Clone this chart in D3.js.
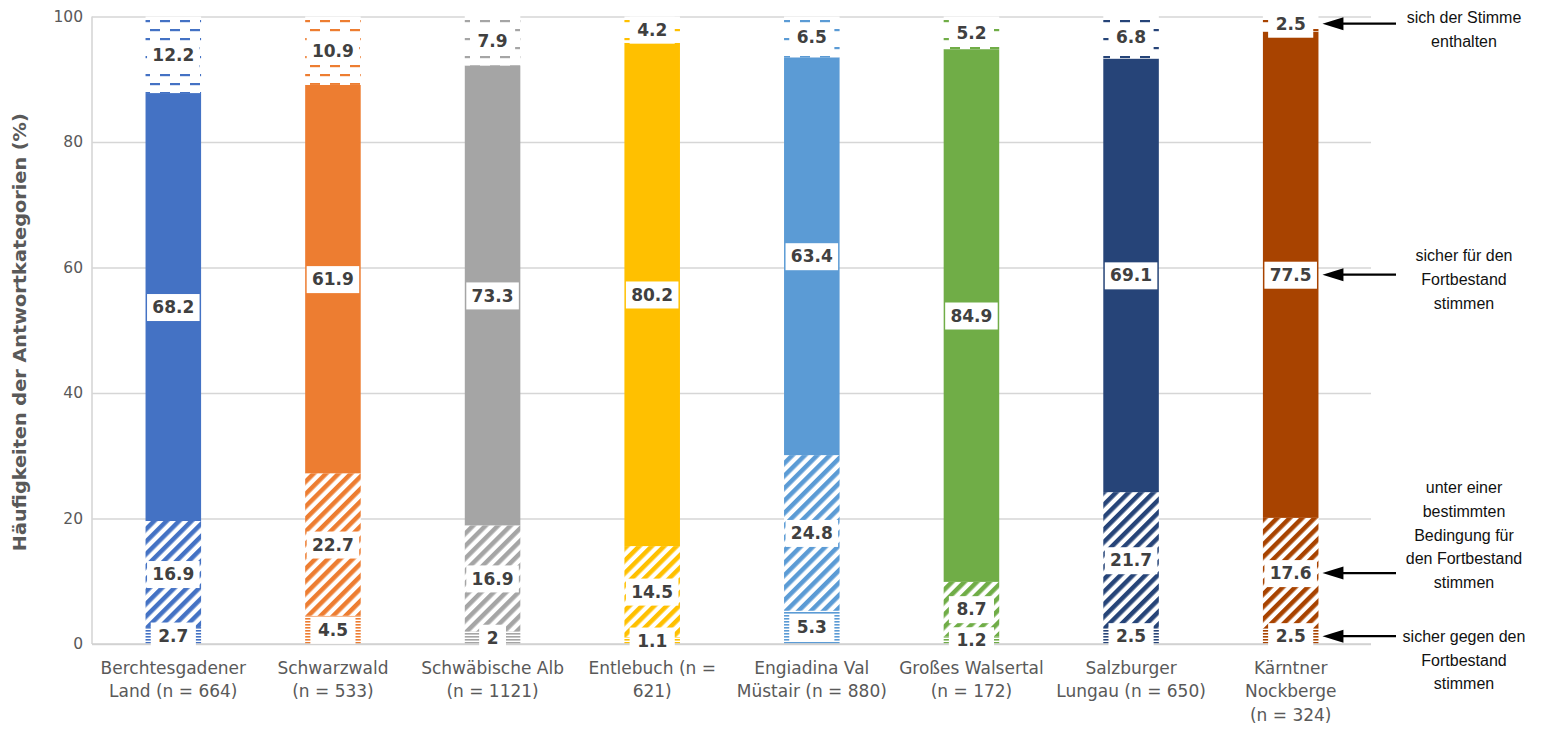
<!DOCTYPE html>
<html>
<head>
<meta charset="utf-8">
<script src="https://cdn.jsdelivr.net/npm/d3@7/dist/d3.min.js"></script>
<style>
  html, body { margin: 0; padding: 0; background: #fff; }
  svg { display: block; }
</style>
</head>
<body>
<svg id="chart" width="1551" height="734"></svg>
<script>
// Regions (axis labels wrapped onto lines)
const categoryLines = [
  ["Berchtesgadener", "Land (n = 664)"],
  ["Schwarzwald", "(n = 533)"],
  ["Schwäbische Alb", "(n = 1121)"],
  ["Entlebuch (n =", "621)"],
  ["Engiadina Val", "Müstair (n = 880)"],
  ["Großes Walsertal", "(n = 172)"],
  ["Salzburger", "Lungau (n = 650)"],
  ["Kärntner", "Nockberge", "(n = 324)"]
];
const categories = categoryLines.map(l => l.join(" "));

// Shares of answer categories (%), bottom to top
const sicherGegen = [2.7, 4.5, 2, 1.1, 5.3, 1.2, 2.5, 2.5];
const bedingung   = [16.9, 22.7, 16.9, 14.5, 24.8, 8.7, 21.7, 17.6];
const sicherFuer  = [68.2, 61.9, 73.3, 80.2, 63.4, 84.9, 69.1, 77.5];
const enthalten   = [12.2, 10.9, 7.9, 4.2, 6.5, 5.2, 6.8, 2.5];

const barColors = ["#4472C4", "#ED7D31", "#A5A5A5", "#FFC000", "#5B9BD5", "#70AD47", "#264478", "#A84300"];
const yTicks = [0, 20, 40, 60, 80, 100];
const yTitle = "Häufigkeiten der Antwortkategorien (%)";

// Legend notes on the right, one per answer category (same order as the stack)
const seriesKeys = ["gegen", "bedingung", "fuer", "enthalten"];
const seriesNotes = [
  ["sicher gegen den", "Fortbestand", "stimmen"],
  ["unter einer", "bestimmten", "Bedingung für", "den Fortbestand", "stimmen"],
  ["sicher für den", "Fortbestand", "stimmen"],
  ["sich der Stimme", "enthalten"]
];
// which note line sits level with the arrow
const noteArrowLine = [0, 3.6, 0.8, 0.25];

const rows = categories.map((c, i) => ({
  category: c,
  gegen: sicherGegen[i],
  bedingung: bedingung[i],
  fuer: sicherFuer[i],
  enthalten: enthalten[i],
  color: barColors[i],
  index: i
}));

const svg = d3.select("#chart");
const plotLeft = 92, plotRight = 1371, plotTop = 16.5, plotBottom = 644;

const x = d3.scaleBand()
  .domain(categories)
  .range([plotLeft + 1.5, plotRight - 0.5])
  .paddingInner(0.652)
  .paddingOuter(0.326);

const y = d3.scaleLinear().domain([0, 100]).range([plotBottom, plotTop]);

// ---- fill patterns per bar colour ----
const defs = svg.append("defs");
barColors.forEach((col, i) => {
  // narrow horizontal lines
  const pg = defs.append("pattern")
    .attr("id", `pat-gegen-${i}`)
    .attr("patternUnits", "userSpaceOnUse")
    .attr("width", 8).attr("height", 3);
  pg.append("rect").attr("width", 8).attr("height", 3).attr("fill", "#fff");
  pg.append("rect").attr("y", 0).attr("width", 8).attr("height", 1.6).attr("fill", col);

  // wide upward diagonal stripes
  const pb = defs.append("pattern")
    .attr("id", `pat-bedingung-${i}`)
    .attr("patternUnits", "userSpaceOnUse")
    .attr("width", 10).attr("height", 8.8)
    .attr("patternTransform", "rotate(-45)");
  pb.append("rect").attr("width", 10).attr("height", 8.8).attr("fill", "#fff");
  pb.append("rect").attr("y", 0).attr("width", 10).attr("height", 4.5).attr("fill", col);

  // dashed horizontal lines
  const pe = defs.append("pattern")
    .attr("id", `pat-enthalten-${i}`)
    .attr("patternUnits", "userSpaceOnUse")
    .attr("width", 20).attr("height", 18);
  pe.append("rect").attr("width", 20).attr("height", 18).attr("fill", "#fff");
  pe.append("rect").attr("x", 0).attr("y", 2).attr("width", 10).attr("height", 2.2).attr("fill", col);
  pe.append("rect").attr("x", 10).attr("y", 11).attr("width", 10).attr("height", 2.2).attr("fill", col);
});

// ---- gridlines ----
svg.append("g")
  .attr("transform", `translate(${plotLeft},0)`)
  .call(d3.axisLeft(y).tickValues(yTicks).tickSize(-(plotRight - plotLeft)).tickFormat(""))
  .call(g => g.select(".domain").remove())
  .call(g => g.selectAll(".tick line").attr("stroke", "#d6d6d6").attr("stroke-width", 1.6));

// left axis line
svg.append("line")
  .attr("x1", plotLeft).attr("x2", plotLeft)
  .attr("y1", y(100)).attr("y2", y(0))
  .attr("stroke", "#d6d6d6").attr("stroke-width", 1.6);

// ---- y tick labels ----
svg.append("g")
  .attr("transform", `translate(${plotLeft - 9},0)`)
  .call(d3.axisLeft(y).tickValues(yTicks).tickSize(0).tickPadding(0))
  .call(g => g.select(".domain").remove())
  .call(g => g.selectAll(".tick text")
    .attr("font-family", "'DejaVu Sans', sans-serif")
    .attr("font-size", 15.5)
    .attr("fill", "#595959"));

// y title
svg.append("text")
  .attr("transform", `translate(26,${(y(100) + y(0)) / 2 + 2}) rotate(-90)`)
  .attr("text-anchor", "middle")
  .attr("font-family", "'DejaVu Sans', sans-serif")
  .attr("font-weight", "bold")
  .attr("font-size", 17)
  .attr("fill", "#595959")
  .attr("textLength", 438)
  .attr("lengthAdjust", "spacingAndGlyphs")
  .text(yTitle);

// ---- stacked bars ----
const stacked = d3.stack().keys(seriesKeys)(rows);
const barsG = svg.append("g");
stacked.forEach(layer => {
  barsG.selectAll(null)
    .data(layer)
    .join("rect")
    .attr("x", d => x(d.data.category))
    .attr("width", x.bandwidth())
    .attr("y", d => y(d[1]))
    .attr("height", d => y(d[0]) - y(d[1]))
    .attr("fill", d => layer.key === "fuer" ? d.data.color : `url(#pat-${layer.key}-${d.data.index})`);
});

// x axis baseline
svg.append("line")
  .attr("x1", plotLeft).attr("x2", plotRight)
  .attr("y1", y(0)).attr("y2", y(0))
  .attr("stroke", "#d0d0d0").attr("stroke-width", 1.6);

// ---- value labels (white boxes) ----
const labelsG = svg.append("g");
stacked.forEach(layer => {
  layer.forEach(d => {
    const v = d.data[layer.key];
    const cx = x(d.data.category) + x.bandwidth() / 2;
    const cy = y((d[0] + d[1]) / 2);
    const g = labelsG.append("g");
    const box = g.append("rect").attr("fill", "#fff");
    const t = g.append("text")
      .attr("x", cx).attr("y", cy)
      .attr("dy", "0.36em")
      .attr("text-anchor", "middle")
      .attr("font-family", "'DejaVu Sans', sans-serif")
      .attr("font-weight", "bold")
      .attr("font-size", 17)
      .attr("fill", "#404040")
      .text(d3.format("~g")(v));
    const tw = t.node().getComputedTextLength();
    const bw = Math.min(tw + 15, x.bandwidth() - 3);
    box.attr("x", cx - bw / 2).attr("width", bw)
      .attr("y", cy - 13).attr("height", 27);
  });
});

// ---- x axis labels ----
svg.append("g")
  .attr("transform", `translate(0,${y(0)})`)
  .call(d3.axisBottom(x).tickSize(0).tickFormat(""))
  .call(g => g.select(".domain").remove())
  .call(g => g.selectAll(".tick").each(function (c, i) {
    const t = d3.select(this).append("text")
      .attr("text-anchor", "middle")
      .attr("font-family", "'DejaVu Sans', sans-serif")
      .attr("font-size", 17)
      .attr("fill", "#595959");
    categoryLines[i].forEach((line, k) => {
      t.append("tspan").attr("x", 0).attr("y", 30 + k * 23.3).text(line);
    });
  }));

// ---- right-hand notes with arrows ----
const last = stacked.map(layer => layer[layer.length - 1]);
const tipX = x(categories[categories.length - 1]) + x.bandwidth() + 4;
const tailX = 1396;
const noteX = 1464;
const lineH = 23.8;
const notesG = svg.append("g");
last.forEach((d, k) => {
  const ay = y((d[0] + d[1]) / 2);
  notesG.append("line")
    .attr("x1", tailX).attr("x2", tipX + 16)
    .attr("y1", ay).attr("y2", ay)
    .attr("stroke", "#000").attr("stroke-width", 2.2);
  notesG.append("path")
    .attr("d", `M${tipX},${ay} L${tipX + 21},${ay - 6.5} L${tipX + 21},${ay + 6.5} Z`)
    .attr("fill", "#000");
  const firstY = ay - noteArrowLine[k] * lineH;
  const t = notesG.append("text")
    .attr("text-anchor", "middle")
    .attr("font-family", "'Liberation Sans', Arial, sans-serif")
    .attr("font-size", 16)
    .attr("fill", "#111");
  seriesNotes[k].forEach((line, j) => {
    t.append("tspan").attr("x", noteX).attr("y", firstY + j * lineH).attr("dy", "0.35em").text(line);
  });
});
</script>
</body>
</html>
